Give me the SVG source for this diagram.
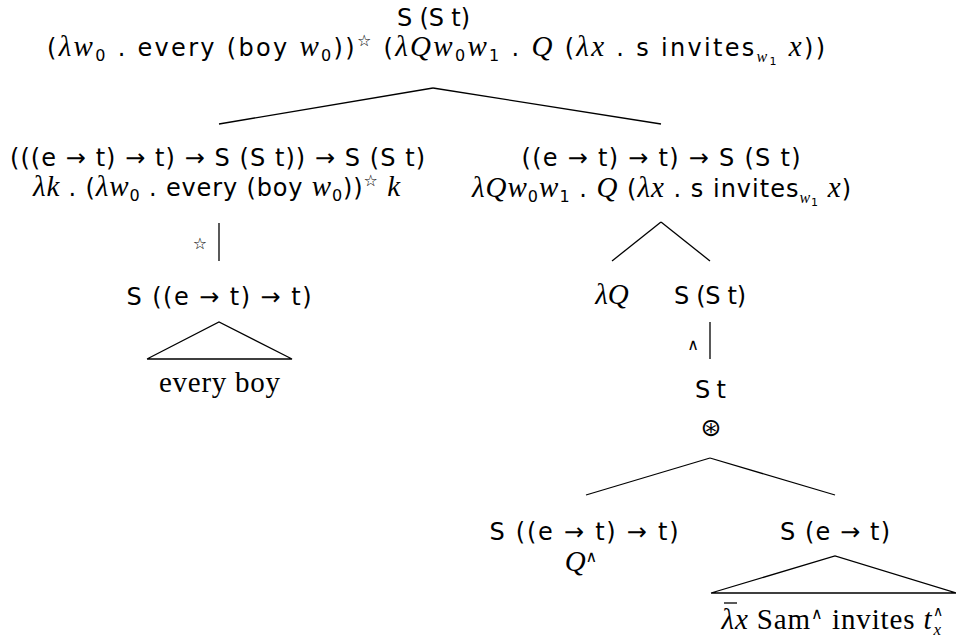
<svg xmlns="http://www.w3.org/2000/svg" width="956" height="643" viewBox="0 0 956 643">
<style>
.t{font-family:"DejaVu Sans",sans-serif;font-size:24px;text-anchor:middle;fill:#000}
.m{font-family:"Liberation Serif",serif;font-style:italic;font-size:29px}
.r{font-family:"Liberation Serif",serif;font-size:29px}
.s{font-size:16px}
.e{stroke:#000;stroke-width:1.3;fill:none}
</style>
<rect width="956" height="643" fill="#fff"/>
<g id="connectors">
<line class="e" x1="433" y1="88" x2="219" y2="124"/>
<line class="e" x1="433" y1="88" x2="661" y2="124"/>
<line class="e" x1="219" y1="223" x2="219" y2="261"/>
<polyline class="e" points="147,359 219,322 292,359 147,359"/>
<line class="e" x1="661" y1="222" x2="612" y2="261"/>
<line class="e" x1="661" y1="222" x2="710" y2="261"/>
<line class="e" x1="710" y1="322" x2="710" y2="359"/>
<line class="e" x1="710" y1="458" x2="586" y2="495"/>
<line class="e" x1="710" y1="458" x2="835" y2="495"/>
<polyline class="e" points="711,593 835,556 956,593 711,593"/>
</g>
<g id="root">
<text class="t" x="433.5" y="26" textLength="73" lengthAdjust="spacing">S (S t)</text>
<text class="t" x="436" y="56" textLength="778" lengthAdjust="spacing">(<tspan class="m">λw</tspan><tspan class="s" dy="5">0</tspan><tspan dy="-5"> . every (boy </tspan><tspan class="m">w</tspan><tspan class="s" dy="5">0</tspan><tspan dy="-5">))</tspan><tspan class="s" dy="-10">☆</tspan><tspan dy="10"> (</tspan><tspan class="m">λQw</tspan><tspan class="s" dy="5">0</tspan><tspan class="m" dy="-5">w</tspan><tspan class="s" dy="5">1</tspan><tspan dy="-5"> . </tspan><tspan class="m">Q</tspan><tspan> (</tspan><tspan class="m">λx</tspan><tspan> . s invites</tspan><tspan class="s" dy="6"><tspan class="m s">w</tspan><tspan font-size="11px" dy="3">1</tspan></tspan><tspan dy="-9"> </tspan><tspan class="m">x</tspan><tspan>))</tspan></text>
</g>
<g id="left">
<text class="t" x="217.5" y="166" textLength="415" lengthAdjust="spacing">(((e → t) → t) → S (S t)) → S (S t)</text>
<text class="t" x="216.5" y="196" textLength="367" lengthAdjust="spacing"><tspan class="m">λk</tspan> . (<tspan class="m">λw</tspan><tspan class="s" dy="5">0</tspan><tspan dy="-5"> . every (boy </tspan><tspan class="m">w</tspan><tspan class="s" dy="5">0</tspan><tspan dy="-5">))</tspan><tspan class="s" dy="-10">☆</tspan><tspan dy="10"> </tspan><tspan class="m">k</tspan></text>
</g>
<g id="star-label"><text class="t" x="200" y="249" style="font-size:16px">☆</text></g>
<g id="quant">
<text class="t" x="219" y="305" textLength="185" lengthAdjust="spacing">S ((e → t) → t)</text>
<text class="t r" x="219.5" y="392" textLength="121" lengthAdjust="spacing">every boy</text>
</g>
<g id="right">
<text class="t" x="661" y="166" textLength="279" lengthAdjust="spacing">((e → t) → t) → S (S t)</text>
<text class="t" x="661.5" y="197" textLength="379" lengthAdjust="spacing"><tspan class="m">λQw</tspan><tspan class="s" dy="5">0</tspan><tspan class="m" dy="-5">w</tspan><tspan class="s" dy="5">1</tspan><tspan dy="-5"> . </tspan><tspan class="m">Q</tspan><tspan> (</tspan><tspan class="m">λx</tspan><tspan> . s invites</tspan><tspan class="s" dy="6"><tspan class="m s">w</tspan><tspan font-size="11px" dy="3">1</tspan></tspan><tspan dy="-9"> </tspan><tspan class="m">x</tspan><tspan>)</tspan></text>
</g>
<g id="lambdaQ"><text class="t m" x="612" y="304">λQ</text></g>
<g id="SSt"><text class="t" x="710" y="304" textLength="72" lengthAdjust="spacing">S (S t)</text></g>
<g id="up-label"><text class="t" x="693" y="350" style="font-size:16px">∧</text></g>
<g id="St">
<text class="t" x="710.5" y="398" textLength="31" lengthAdjust="spacing">S t</text>
<text class="t" x="711" y="436" style="font-size:25px">⊛</text>
</g>
<g id="Qnode">
<text class="t" x="584" y="540" textLength="189" lengthAdjust="spacing">S ((e → t) → t)</text>
<text class="t" x="581" y="571"><tspan class="m">Q</tspan><tspan dy="-9" style="font-size:16px">∧</tspan></text>
</g>
<g id="Setnode">
<text class="t" x="835" y="540" textLength="110" lengthAdjust="spacing">S (e → t)</text>
<text class="t r" x="832" y="629" textLength="222" lengthAdjust="spacing"><tspan class="m">λx</tspan> Sam<tspan dy="-10" style="font-size:16px">∧</tspan><tspan dy="10"> invites </tspan><tspan class="m">t</tspan><tspan dy="-13" style="font-size:14px">∧</tspan><tspan class="m" dx="-10" dy="19" style="font-size:17px">x</tspan></text>
<line class="e" x1="724" y1="603" x2="737" y2="603"/>
</g>
</svg>
